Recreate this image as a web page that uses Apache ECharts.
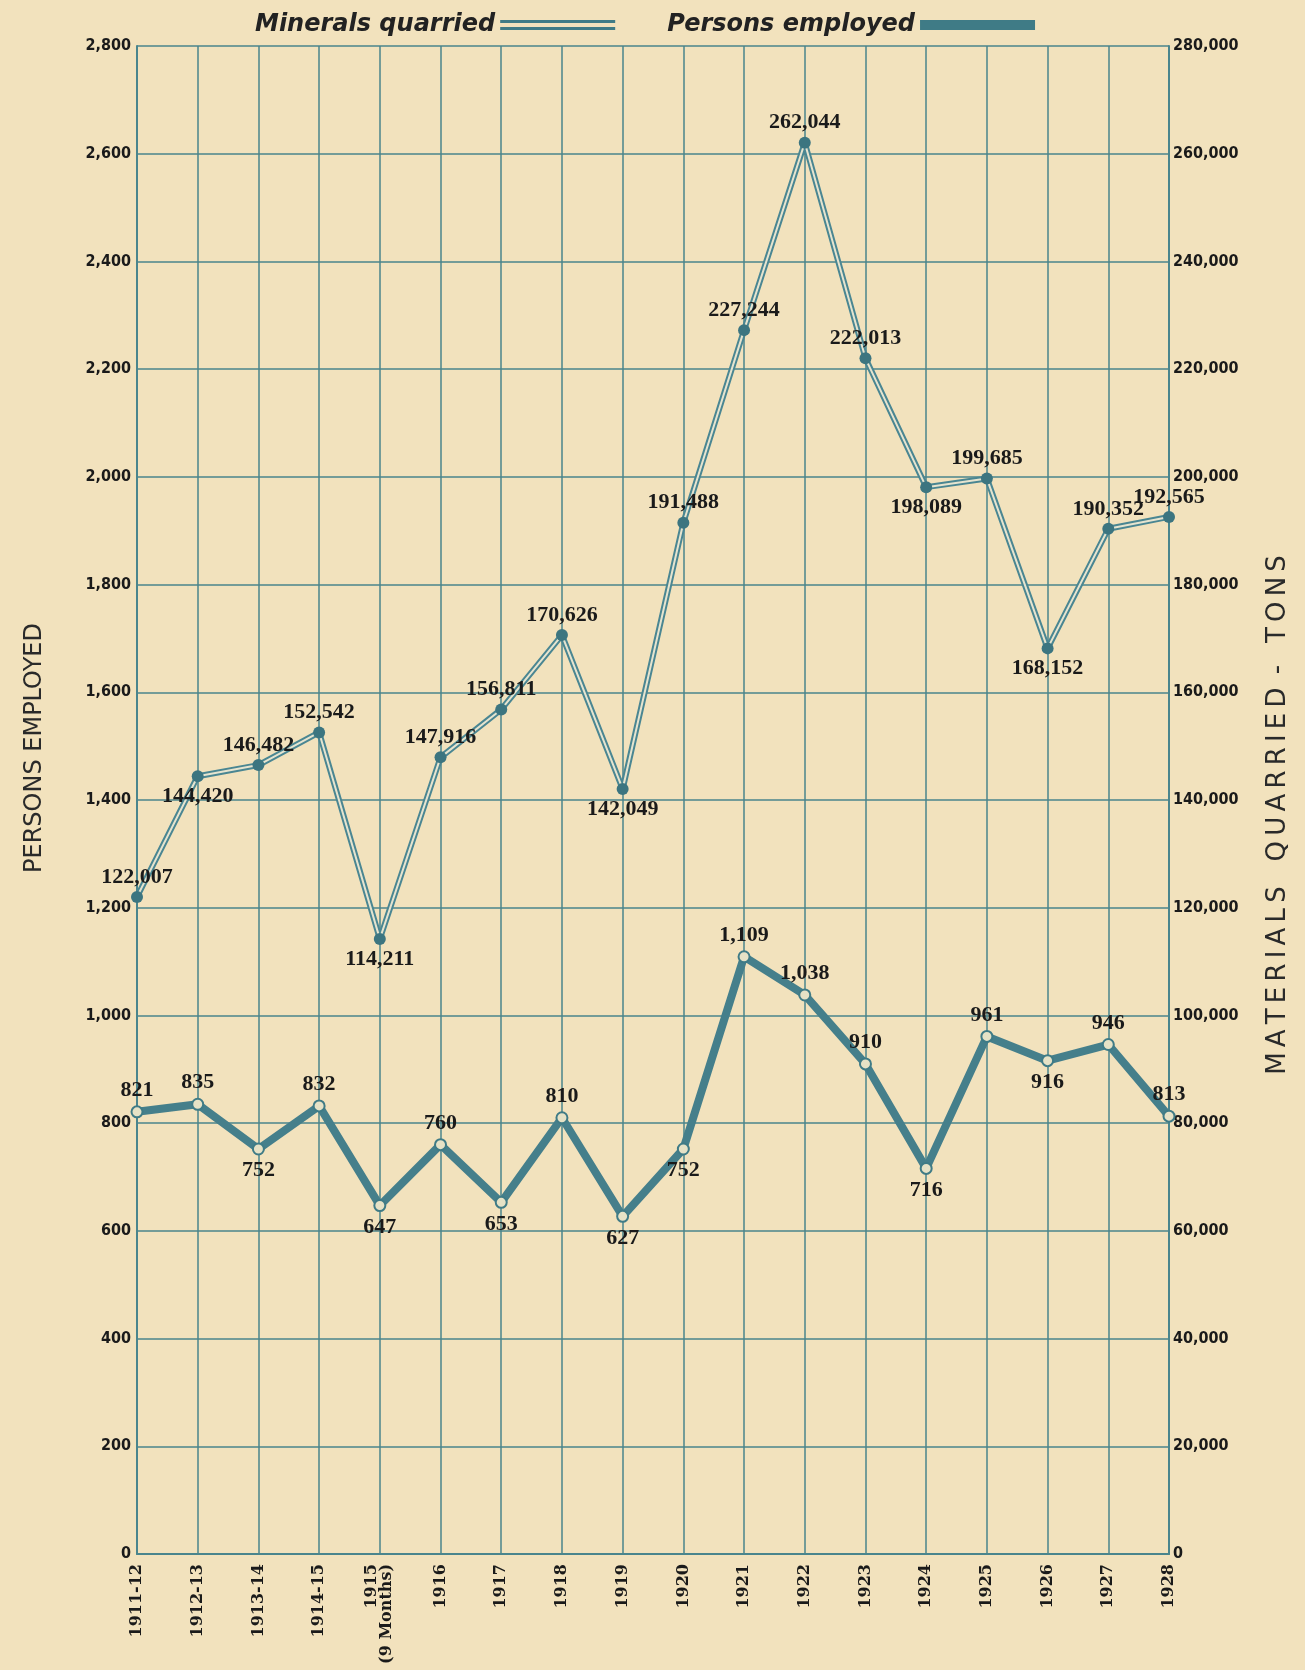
<!DOCTYPE html>
<html>
<head>
<meta charset="utf-8">
<script src="https://cdn.jsdelivr.net/npm/echarts@6/dist/echarts.min.js"></script>
<style>
  html, body { margin: 0; padding: 0; background: #f2e2bd; }
  #chart { width: 1305px; height: 1670px; }
</style>
</head>
<body>
<div id="chart"></div>
<script>
// years along the bottom
const years = ['1911-12', '1912-13', '1913-14', '1914-15', '1915\n(9 Months)', '1916', '1917', '1918', '1919',
    '1920', '1921', '1922', '1923', '1924', '1925', '1926', '1927', '1928'];

// tons of materials quarried (right axis)
const mineralsQuarried = [122007, 144420, 146482, 152542, 114211, 147916, 156811, 170626, 142049,
    191488, 227244, 262044, 222013, 198089, 199685, 168152, 190352, 192565];

// persons employed (left axis)
const personsEmployed = [821, 835, 752, 832, 647, 760, 653, 810, 627,
    752, 1109, 1038, 910, 716, 961, 916, 946, 813];

// where each value label sits
const mineralLabelPos = ['top', 'bottom', 'top', 'top', 'bottom', 'top', 'top', 'top', 'bottom',
    'top', 'top', 'top', 'top', 'bottom', 'top', 'bottom', 'top', 'top'];
const personLabelPos = ['top', 'top', 'bottom', 'top', 'bottom', 'top', 'bottom', 'top', 'bottom',
    'bottom', 'top', 'top', 'top', 'bottom', 'top', 'bottom', 'top', 'top'];

const teal = '#3f7b86';
const gridColor = '#4a858d';
const paper = '#f2e2bd';

function fmt(v) {
    return Number(v).toLocaleString('en-US');
}

// the right hand title is printed letter spaced
function spaced(w) {
    return w.split('').join('\u2009');
}
const rightName = spaced('MATERIALS') + '   ' + spaced('QUARRIED') + ' \u2009-  \u2009' + spaced('TONS');

let myChart = echarts.init(document.getElementById('chart'));

const labelFont = {
    fontFamily: '"Liberation Serif", "DejaVu Serif", serif',
    fontSize: 22,
    fontWeight: 'bold',
    color: '#1a1a1a'
};

let option = {
    backgroundColor: paper,
    animation: false,
    legend: {
        left: 250,
        top: 8,
        align: 'right',
        itemWidth: 115,
        itemHeight: 10,
        itemGap: 52,
        selectedMode: false,
        textStyle: {
            fontFamily: '"DejaVu Sans", sans-serif',
            fontWeight: 'bold',
            fontStyle: 'italic',
            fontSize: 24,
            color: '#222'
        },
        data: [
            {
                name: 'Minerals quarried',
                icon: 'path://M0,0H115V3H0Z M0,7H115V10H0Z',
                itemStyle: { color: teal, borderWidth: 0 }
            },
            {
                name: 'Persons employed',
                icon: 'rect',
                itemStyle: { color: teal, borderWidth: 0 }
            }
        ]
    },
    grid: {
        left: 137,
        right: 136,
        top: 46,
        bottom: 116
    },
    xAxis: {
        type: 'category',
        data: years,
        boundaryGap: false,
        axisLine: { lineStyle: { color: gridColor, width: 2 } },
        axisTick: { show: false },
        axisLabel: {
            rotate: 90,
            margin: 10,
            interval: 0,
            fontFamily: '"DejaVu Serif", serif',
            fontWeight: 'bold',
            fontSize: 16,
            lineHeight: 15,
            color: '#1a1a1a'
        },
        splitLine: { show: true, lineStyle: { color: gridColor, width: 1.5 } }
    },
    yAxis: [
        {
            type: 'value',
            min: 0,
            max: 2800,
            interval: 200,
            name: 'PERSONS EMPLOYED',
            nameLocation: 'middle',
            nameGap: 90,
            nameTextStyle: {
                fontFamily: '"DejaVu Sans", sans-serif',
                fontSize: 24,
                color: '#2a2a2a',
                padding: [0, 0, 0, 104]
            },
            axisLine: { show: true, lineStyle: { color: gridColor, width: 2 } },
            axisTick: { show: false },
            axisLabel: {
                margin: 6,
                formatter: fmt,
                fontFamily: '"DejaVu Sans Condensed", "DejaVu Sans", sans-serif',
                fontWeight: 'bold',
                fontSize: 16,
                color: '#1a1a1a'
            },
            splitLine: { show: true, lineStyle: { color: gridColor, width: 1.5 } }
        },
        {
            type: 'value',
            min: 0,
            max: 280000,
            interval: 20000,
            position: 'right',
            name: rightName,
            nameLocation: 'middle',
            nameGap: 96,
            nameRotate: 90,
            nameTextStyle: {
                fontFamily: '"DejaVu Sans", sans-serif',
                fontSize: 26,
                color: '#2a2a2a',
                padding: [0, 30, 0, 0]
            },
            axisLine: { show: true, lineStyle: { color: gridColor, width: 2 } },
            axisTick: { show: false },
            axisLabel: {
                margin: 4,
                formatter: fmt,
                fontFamily: '"DejaVu Sans Condensed", "DejaVu Sans", sans-serif',
                fontWeight: 'bold',
                fontSize: 16,
                color: '#1a1a1a'
            },
            splitLine: { show: false }
        }
    ],
    series: [
        // outer edge of the double line
        {
            name: 'mineralsOuter',
            type: 'line',
            yAxisIndex: 1,
            data: mineralsQuarried,
            symbol: 'none',
            silent: true,
            z: 2,
            lineStyle: { color: '#4a8692', width: 6 }
        },
        // light centre of the double line
        {
            name: 'mineralsInner',
            type: 'line',
            yAxisIndex: 1,
            data: mineralsQuarried,
            symbol: 'none',
            silent: true,
            z: 3,
            lineStyle: { color: '#e6e4cf', width: 2 }
        },
        // dots and labels for minerals
        {
            name: 'Minerals quarried',
            type: 'line',
            yAxisIndex: 1,
            z: 4,
            data: mineralsQuarried.map((v, i) => ({ value: v, label: { position: mineralLabelPos[i] } })),
            symbol: 'circle',
            symbolSize: 12,
            itemStyle: { color: '#3c7580' },
            lineStyle: { opacity: 0, width: 0 },
            label: Object.assign({ show: true, distance: 3, formatter: p => fmt(p.value) }, labelFont)
        },
        {
            name: 'Persons employed',
            type: 'line',
            yAxisIndex: 0,
            z: 5,
            data: personsEmployed.map((v, i) => ({ value: v, label: { position: personLabelPos[i] } })),
            symbol: 'circle',
            symbolSize: 11,
            itemStyle: { color: '#e6e2c6', borderColor: '#3f7b86', borderWidth: 2 },
            lineStyle: { color: '#457f8b', width: 8 },
            label: Object.assign({ show: true, distance: 4, formatter: p => fmt(p.value) }, labelFont)
        }
    ]
};
myChart.setOption(option);
</script>
</body>
</html>
